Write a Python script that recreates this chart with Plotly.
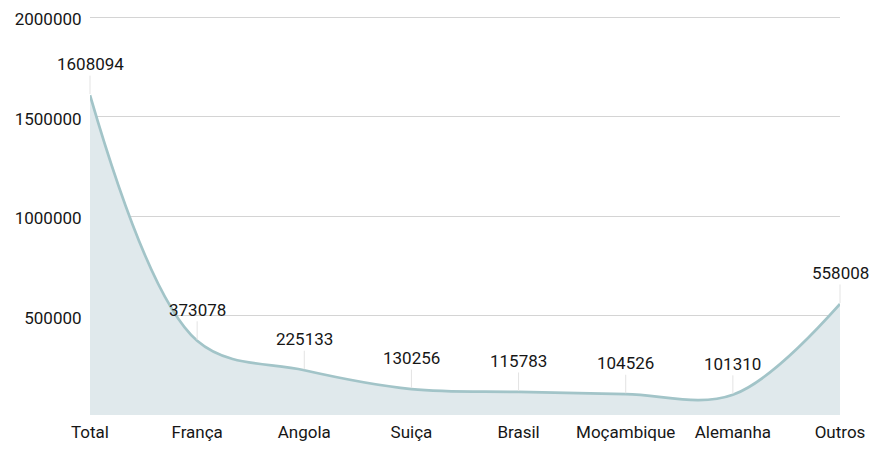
import plotly.graph_objects as go

categories = ["Total", "França", "Angola", "Suiça", "Brasil", "Moçambique", "Alemanha", "Outros"]
values = [1608094, 373078, 225133, 130256, 115783, 104526, 101310, 558008]
y_ticks = [500000, 1000000, 1500000, 2000000]

FONT = "Roboto"
TXT = "#161616"
FS = 17

fig = go.Figure()
fig.add_trace(go.Scatter(
    x=list(range(len(categories))), y=values,
    mode="lines", line=dict(shape="spline", smoothing=1.0, color="#a2c4c8", width=2.7),
    fill="tozeroy", fillcolor="#e0e9ec", hoverinfo="skip",
))

for i, v in enumerate(values):
    fig.add_annotation(
        x=i, y=v, text=str(v), showarrow=True, arrowhead=0, arrowwidth=1,
        arrowcolor="#e3e3e3", ax=0, ay=-31, standoff=1,
        font=dict(family=FONT, size=FS, color=TXT), yanchor="middle",
    )

# page body has an 8px margin, so the figure is sized/offset to compensate
fig.update_layout(
    width=869, height=434,
    margin=dict(l=82, r=37, t=8, b=27),
    paper_bgcolor="white", plot_bgcolor="white",
    showlegend=False,
    font=dict(family=FONT, size=FS, color=TXT),
    xaxis=dict(
        range=[0, len(categories) - 1], tickvals=list(range(len(categories))),
        ticktext=categories, showgrid=False, zeroline=False, showline=False,
        ticks="outside", ticklen=2, tickcolor="rgba(0,0,0,0)", automargin=False,
        ticklabeloverflow="allow",
        tickfont=dict(family=FONT, size=FS, color=TXT),
    ),
    yaxis=dict(
        range=[0, 2006000], tickvals=y_ticks, ticktext=[str(t) for t in y_ticks],
        showgrid=True, gridcolor="#d4d4d4", gridwidth=1, zeroline=False, showline=False,
        ticks="outside", ticklen=4, tickcolor="rgba(0,0,0,0)", automargin=False,
        ticklabeloverflow="allow", ticklabelshift=2,
        tickfont=dict(family=FONT, size=FS, color=TXT),
    ),
)

fig.write_html("out.html")
